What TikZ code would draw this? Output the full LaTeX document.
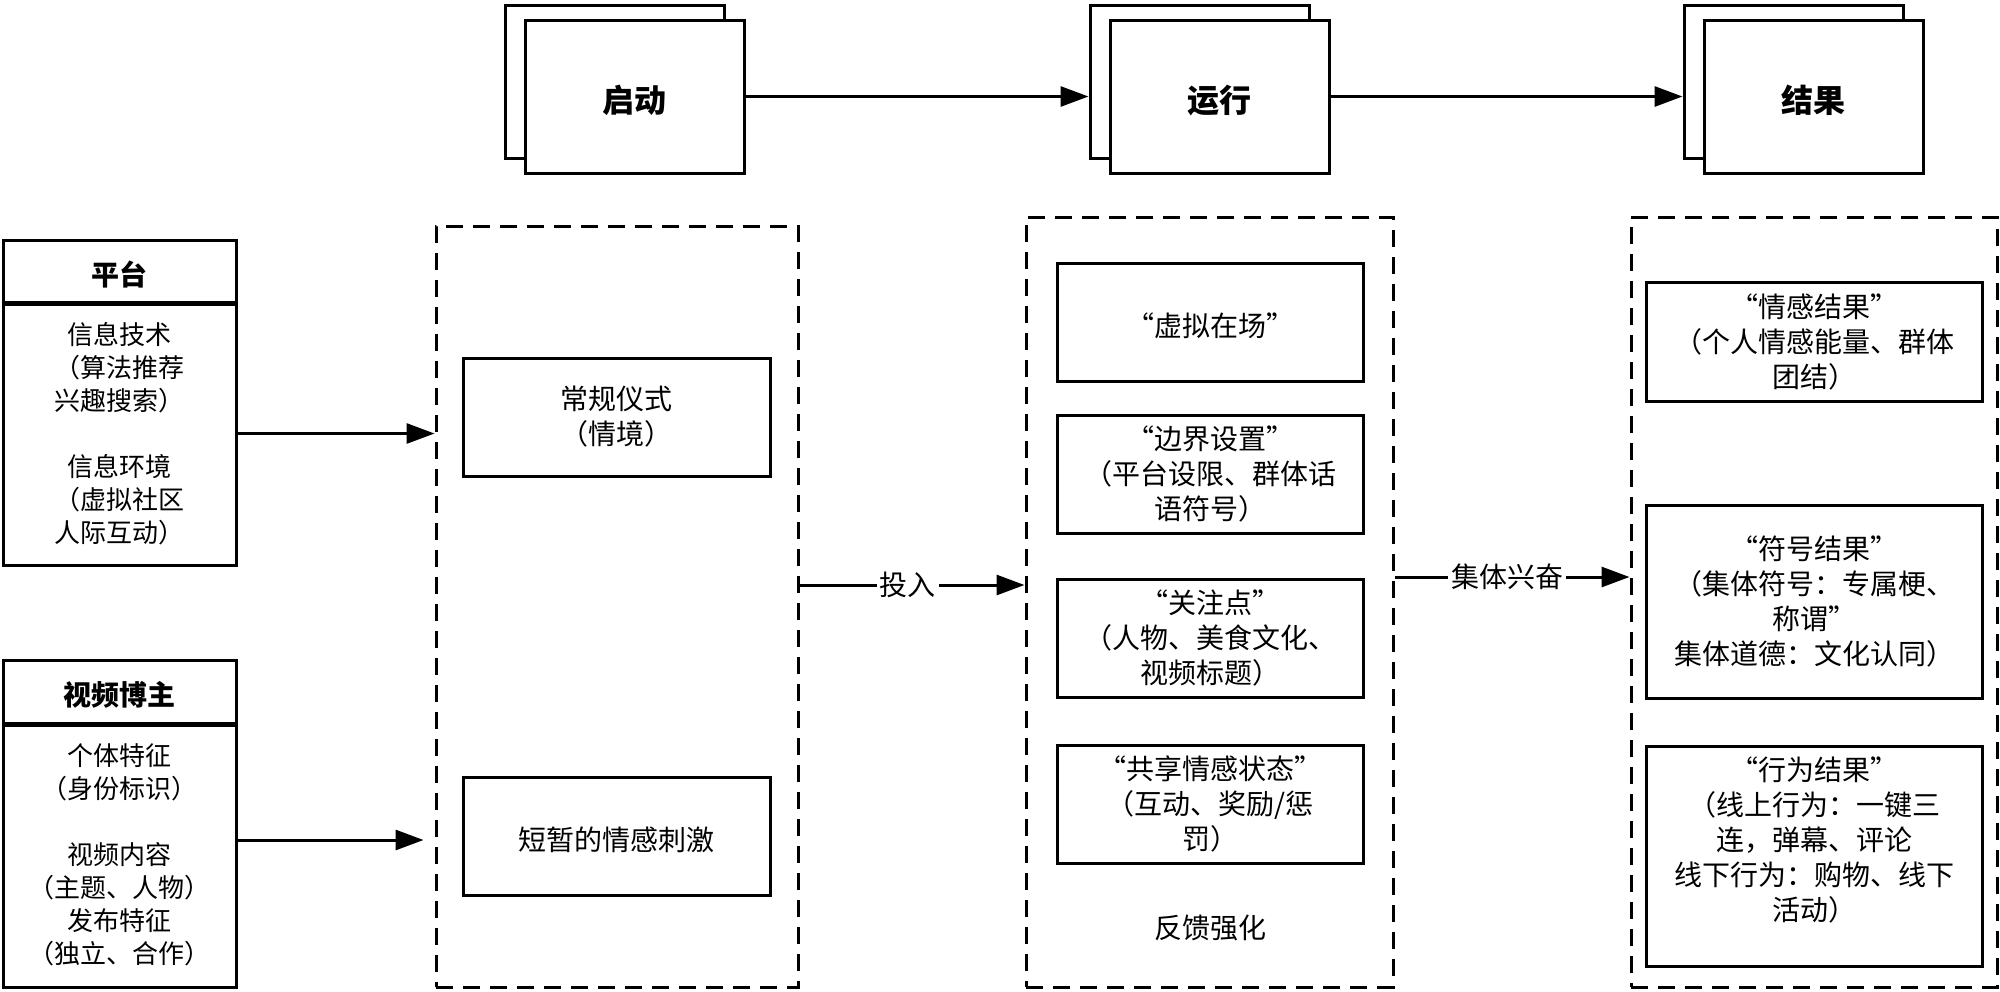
\documentclass[tikz,border=0pt]{standalone}
\usepackage{fontspec}
\setmainfont{Noto Sans CJK SC}
\usetikzlibrary{arrows.meta,calc}
\begin{document}
\begin{tikzpicture}[x=0.5pt,y=-0.5pt,
  box/.style={draw, line width=1.5pt, fill=white, inner sep=0pt, align=center, rectangle,
    execute at begin node={\rule{0pt}{1.1em}}},
  topb/.style={box, minimum width=109.5pt, minimum height=76.5pt},
  headb/.style={box, minimum width=116.5pt, minimum height=31pt},
  midb/.style={box, minimum width=153pt, minimum height=59pt},
  rgtb/.style={box, minimum width=168pt},
  dbox/.style={draw, line width=1.5pt, dash pattern=on 8.5pt off 5pt, inner sep=0pt, rectangle},
  arr/.style={line width=1.5pt, -{Triangle[length=14pt,width=10pt]}},
  lbl/.style={fill=white, inner sep=1.5pt, font=\fontsize{14pt}{17pt}\selectfont},
  f13/.style={font=\fontsize{13pt}{16.5pt}\selectfont},
  f14/.style={font=\fontsize{14pt}{17.5pt}\selectfont},
  tb14/.style={font=\fontsize{14pt}{17pt}\selectfont\bfseries},
  tb16/.style={font=\fontsize{16pt}{19pt}\selectfont\bfseries}]
\useasboundingbox[fill=white] (0,0) rectangle (2000,991);

% top stage boxes
\node[topb] (qdb) at (614.5,81.5) {};
\node[topb, tb16] (qd) at (634.5,96.5) {启动};
\node[topb] (yxb) at (1199.5,81.5) {};
\node[topb, tb16] (yx) at (1219.5,96.5) {运行};
\node[topb] (jgb) at (1793.5,81.5) {};
\node[topb, tb16] (jg) at (1813.5,96.5) {结果};
\draw[arr] (qd.east) -- (qd.east -| yxb.west);
\draw[arr] (yx.east) -- (yx.east -| jgb.west);

% left boxes
\node[headb, tb14] (pth) at (119.5,271) {平台};
\node[box, minimum width=116.5pt, minimum height=131.5pt, f13] (ptb) at (119.5,433.5)
  {信息技术\\（算法推荐\\兴趣搜索）\\[16.5pt]信息环境\\（虚拟社区\\人际互动）};
\draw[line width=2pt] (pth.south west) -- (pth.south east);
\node[box, minimum width=116.5pt, minimum height=31.5pt, tb14] (bzh) at (119.5,691.5) {视频博主};
\node[box, minimum width=116.5pt, minimum height=132pt, f13] (bzb) at (119.5,855)
  {个体特征\\（身份标识）\\[16.5pt]视频内容\\（主题、人物）\\发布特征\\（独立、合作）};
\draw[line width=2pt] (bzh.south west) -- (bzh.south east);

% dashed group 1
\node[dbox, minimum width=181pt, minimum height=380.5pt] (d1) at (617,606.5) {};
\node[box, minimum width=153.5pt, minimum height=59pt, f14] (cg) at (616.5,417) {常规仪式\\（情境）};
\node[box, minimum width=153.5pt, minimum height=59pt, f14] (dz) at (616.5,836) {短暂的情感刺激};

% dashed group 2
\node[dbox, minimum width=183.5pt, minimum height=385pt] (d2) at (1209.5,602) {};
\node[midb, f14] (xn) at (1210,322) {“虚拟在场”};
\node[midb, f14] (bj) at (1210,474) {“边界设置”\\（平台设限、群体话\\语符号）};
\node[midb, f14] (gz) at (1210,638) {“关注点”\\（人物、美食文化、\\视频标题）};
\node[midb, f14] (gx) at (1210,804) {“共享情感状态”\\（互动、奖励/惩\\罚）};
\node[f14] (fk) at (1210,928) {反馈强化};

% dashed group 3
\node[dbox, minimum width=183pt, minimum height=385pt] (d3) at (1814,602) {};
\node[rgtb, minimum height=59.5pt, f14] (qg) at (1814,341.5) {“情感结果”\\（个人情感能量、群体\\团结）};
\node[rgtb, minimum height=96.5pt, f14] (fh) at (1814,601.5) {“符号结果”\\（集体符号：专属梗、\\称谓”\\集体道德：文化认同）};
\node[rgtb, minimum height=110pt] (xw) at (1814,856) {};
\node[f14, align=center] (xwt) at (1814,840) {“行为结果”\\（线上行为：一键三\\连，弹幕、评论\\线下行为：购物、线下\\活动）};

% connectors
\draw[arr] (ptb.east) -- (ptb.east -| d1.west);
\draw[arr, shorten >=5.5pt] ([yshift=7.5pt]bzb.east) -- ([yshift=7.5pt]bzb.east -| d1.west);
\draw[arr] ([yshift=10.75pt]d1.east) -- node[lbl, pos=0.48] (tr) {投入} ([yshift=10.75pt]d1.east -| d2.west);
\draw[arr] ([yshift=12.5pt]d2.east) -- node[lbl, pos=0.48] (jt) {集体兴奋} ([yshift=12.5pt]d2.east -| d3.west);
\end{tikzpicture}
\end{document}
